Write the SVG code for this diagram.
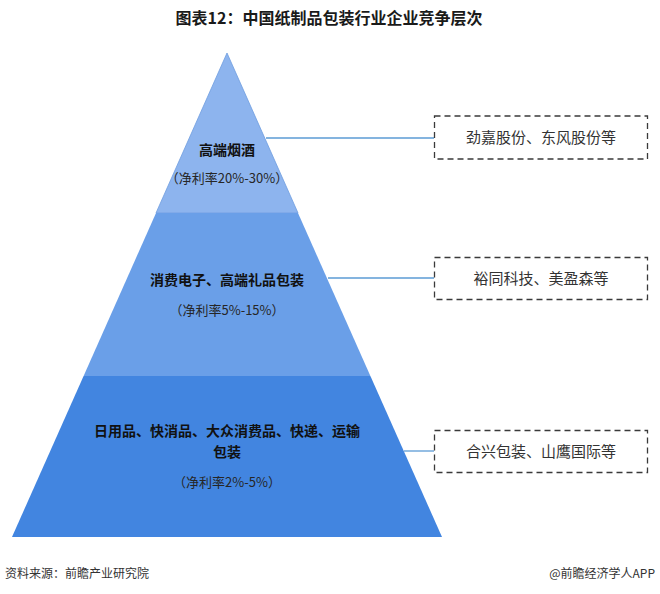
<svg xmlns="http://www.w3.org/2000/svg" width="660" height="594" viewBox="0 0 660 594">
<style>
text{font-family:"Noto Sans CJK SC","Noto Sans",sans-serif;}
.title{font-size:16px;font-weight:bold;fill:#1a1a1a;}
.lbl{font-size:14px;font-weight:bold;fill:#111;}
.rate{font-size:13px;fill:#262626;}
.box{fill:#fff;stroke:#3a3a3a;stroke-width:1.3;stroke-dasharray:6 4;}
.btxt{font-size:15px;fill:#333;}
.conn{stroke:#5b9bd5;stroke-width:1.3;fill:none;}
.foot{font-size:12px;fill:#333;}
</style>
<rect width="660" height="594" fill="#fff"/>
<text class="title" x="329" y="24" text-anchor="middle">图表12：中国纸制品包装行业企业竞争层次</text>

<g id="tier-top">
<polygon points="227,53 298,213 156,213" fill="#8db4ee" stroke="#6f9de0" stroke-width="0.8"/>
<text class="lbl" x="227" y="155" text-anchor="middle">高端烟酒</text>
<text class="rate" x="227" y="183" text-anchor="middle">（净利率20%-30%）</text>
</g>
<g id="tier-middle">
<polygon points="156,213 298,213 370.4,376 83.6,376" fill="#6a9fe8"/>
<text class="lbl" x="227" y="285" text-anchor="middle">消费电子、高端礼品包装</text>
<text class="rate" x="227" y="315" text-anchor="middle">（净利率5%-15%）</text>
</g>
<g id="tier-bottom">
<polygon points="83.6,376 370.4,376 442,537 12,537" fill="#4285e0"/>
<text class="lbl" x="227" y="436" text-anchor="middle">日用品、快消品、大众消费品、快递、运输</text>
<text class="lbl" x="227" y="457" text-anchor="middle">包装</text>
<text class="rate" x="227" y="487" text-anchor="middle">（净利率2%-5%）</text>
</g>

<g id="connectors">
<line class="conn" x1="266" y1="138" x2="434" y2="138"/>
<line class="conn" x1="328" y1="278" x2="434" y2="278"/>
<line class="conn" x1="404" y1="451" x2="434" y2="451"/>
</g>

<g id="box-top">
<rect class="box" x="434.5" y="116" width="213" height="43"/>
<text class="btxt" x="541" y="143" text-anchor="middle">劲嘉股份、东风股份等</text>
</g>
<g id="box-middle">
<rect class="box" x="434.5" y="257.5" width="213" height="42"/>
<text class="btxt" x="541" y="284" text-anchor="middle">裕同科技、美盈森等</text>
</g>
<g id="box-bottom">
<rect class="box" x="434.5" y="430.5" width="213" height="42"/>
<text class="btxt" x="541" y="457" text-anchor="middle">合兴包装、山鹰国际等</text>
</g>

<text class="foot" x="5" y="578">资料来源：前瞻产业研究院</text>
<text class="foot" x="655" y="578" text-anchor="end">@前瞻经济学人APP</text>
</svg>
